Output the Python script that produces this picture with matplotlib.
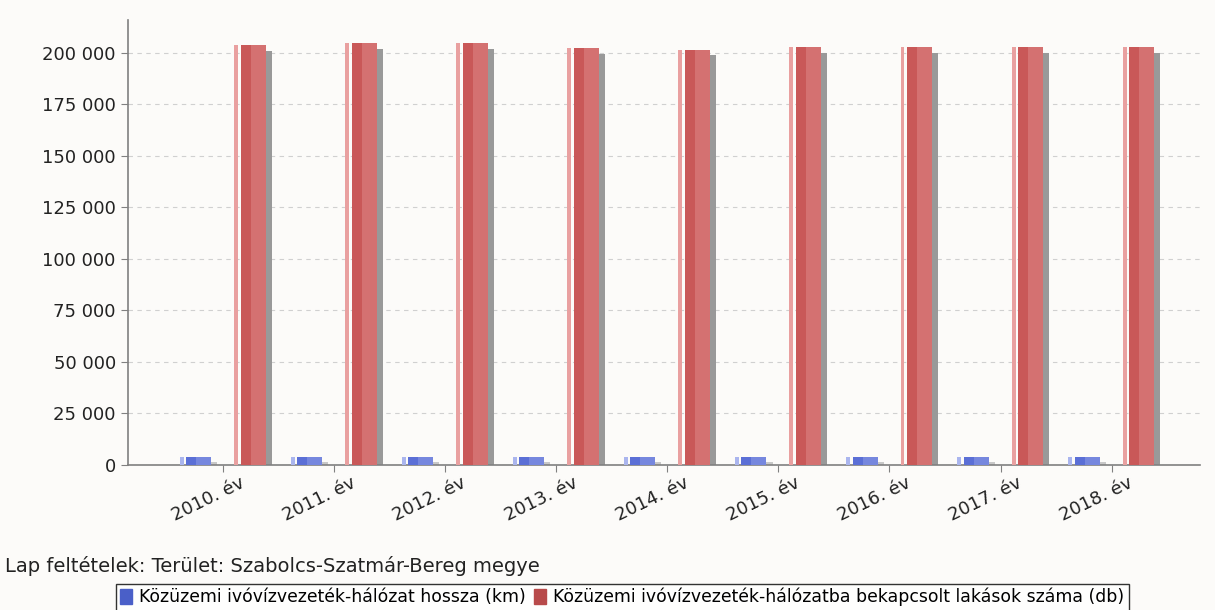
import numpy as np
import matplotlib.pyplot as plt
import matplotlib.transforms as mtransforms
from matplotlib.ticker import FuncFormatter

years = ["2010. év", "2011. év", "2012. év", "2013. év", "2014. év",
         "2015. év", "2016. év", "2017. év", "2018. év"]
halozat_km = [3900, 3910, 3920, 3925, 3930, 3935, 3940, 3945, 3950]
lakasok_db = [203800, 204700, 204600, 202300, 201500, 202600, 202600, 202700, 202700]

label_km = "Közüzemi ivóvízvezeték-hálózat hossza (km)"
label_db = "Közüzemi ivóvízvezeték-hálózatba bekapcsolt lakások száma (db)"

bg = "#fcfbf9"
fig = plt.figure(figsize=(12.15, 6.1), dpi=100, facecolor=bg)
ax = fig.add_axes([0.105, 0.2377, 0.883, 0.73], facecolor=bg)

x = np.arange(len(years))
w = 0.225


def bar3d(pos, vals, color, light, shadow, drop):
    vals = np.array(vals, dtype=float)
    # shadow behind, shifted right and slightly lower
    ax.bar(pos + 0.055, vals - drop, w, color=shadow, zorder=2, linewidth=0)
    # pale strip on the left
    ax.bar(pos - w / 2 - 0.04, vals, 0.035, color=light, zorder=3, linewidth=0)
    # front face with lighter right part
    ax.bar(pos, vals, w, color=color, zorder=4, linewidth=0)
    ax.bar(pos + w * 0.2, vals, w * 0.6, color=light, alpha=0.35, zorder=5, linewidth=0)


bar3d(x - 0.22, halozat_km, "#5b6fd6", "#aab5ee", "#c8c8c8", 2500)
bar3d(x + 0.27, lakasok_db, "#c95858", "#e9a0a0", "#999999", 2800)

ax.set_xlim(-0.86, 8.8)
ax.set_ylim(0, 216000)
ax.set_yticks(np.arange(0, 200001, 25000))
ax.yaxis.set_major_formatter(FuncFormatter(lambda v, p: f"{int(v):,}".replace(",", " ")))
ax.grid(axis="y", color="#d0d0d0", linestyle=(0, (4, 4)), linewidth=0.8, zorder=0)

ax.set_xticks(x)
ax.set_xticklabels(years, rotation=26, ha="right", rotation_mode="anchor")
ax.tick_params(axis="both", labelsize=13, color="#808080", length=5, labelcolor="#222222")
ax.tick_params(axis="x", pad=3)
shift = mtransforms.ScaledTranslation(0.16, 0.02, fig.dpi_scale_trans)
for lbl in ax.get_xticklabels():
    lbl.set_transform(lbl.get_transform() + shift)

for s in ["top", "right"]:
    ax.spines[s].set_visible(False)
for s in ["left", "bottom"]:
    ax.spines[s].set_color("#808080")
    ax.spines[s].set_linewidth(1.2)

fig.text(0.004, 0.072, "Lap feltételek: Terület: Szabolcs-Szatmár-Bereg megye",
         fontsize=14, color="#222222", va="center")

handles = [plt.Rectangle((0, 0), 1, 1, color="#4a5fc8"),
           plt.Rectangle((0, 0), 1, 1, color="#b84a4a")]
leg = fig.legend(handles, [label_km, label_db], loc="center", ncol=2,
                 bbox_to_anchor=(0.512, 0.021), frameon=True, fancybox=False,
                 edgecolor="black", handlelength=0.7, handleheight=0.9,
                 handletextpad=0.4, columnspacing=0.5, borderpad=0.25,
                 prop={"size": 12.4})
leg.get_frame().set_linewidth(1.0)

fig.savefig("out.png", dpi=100, facecolor=bg)
